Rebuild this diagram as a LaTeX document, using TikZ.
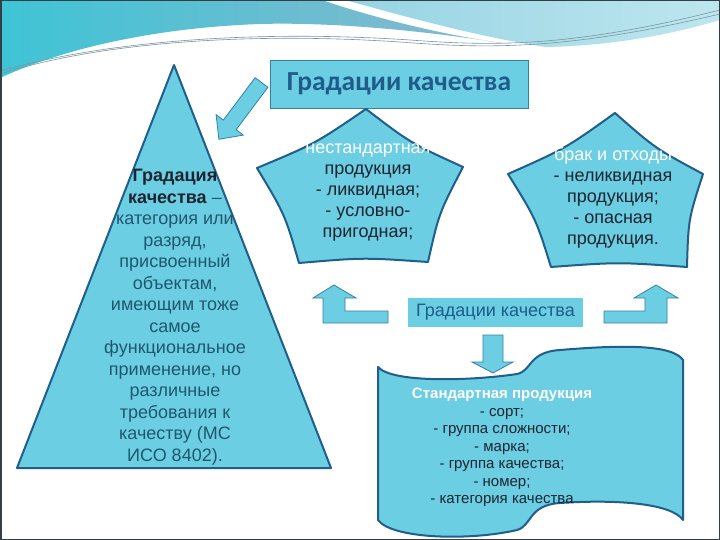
\documentclass[tikz,border=0pt]{standalone}
\usepackage{fontspec}
\setmainfont{Liberation Sans}
\newfontfamily\titlefont{Carlito}
\usetikzlibrary{calc}
\definecolor{fillc}{RGB}{108,206,226}
\definecolor{edgec}{RGB}{31,95,138}
\definecolor{arrowedge}{RGB}{50,130,165}
\definecolor{textdark}{RGB}{28,36,48}
\definecolor{tritext}{RGB}{31,88,110}
\definecolor{titlec}{RGB}{31,92,138}
\definecolor{bgblueA}{RGB}{62,196,214}
\definecolor{bgblueB}{RGB}{138,184,204}
\definecolor{bglightA}{RGB}{150,212,228}
\definecolor{bglightB}{RGB}{190,230,238}
\definecolor{framec}{RGB}{50,62,72}
\definecolor{linec}{RGB}{120,150,160}
\tikzset{
  shapeline/.style={draw=edgec, line width=2pt, fill=fillc, line join=round},
  blockarrow/.style={draw=arrowedge, line width=0.8pt, fill=fillc, line join=miter},
  bodytext/.style={align=center, font=\fontsize{18}{21}\selectfont, text=textdark, inner sep=0pt},
}
\begin{document}
\begin{tikzpicture}[x=1pt,y=-1pt]
\useasboundingbox (0,0) rectangle (720,540);
\fill[white] (0,0) rectangle (720,540);
% background decoration
\shade[left color=bgblueA, right color=bgblueB] (0,0) -- (322,0) .. controls (380,20) and (450,36) .. (508,44) .. controls (420,30) and (330,22) .. (260,24) .. controls (150,28) and (60,50) .. (0,78) -- cycle;
\shade[left color=bglightA, right color=bglightB] (345,0) -- (720,0) -- (720,20) .. controls (660,38) and (600,46) .. (545,47) .. controls (470,35) and (400,15) .. (345,0) -- cycle;
\draw[linec, line width=0.6pt] (0,74) .. controls (100,42) and (250,32) .. (400,42) .. controls (480,48) and (560,52) .. (720,14);
\draw[linec, line width=0.6pt] (0,71) .. controls (110,40) and (260,30) .. (410,40) .. controls (490,46) and (570,48) .. (720,10);
\draw[framec, line width=1.5pt] (0.75,0.75) rectangle (719.25,539.25);

% triangle
\coordinate (ta) at (174,65);
\coordinate (tb) at (17,468);
\coordinate (tc) at (331,468);
\draw[shapeline] (ta) -- (tc) -- (tb) -- cycle;
\node[align=center, font=\fontsize{18}{21.5}\selectfont, text=tritext, inner sep=0pt] (tritxt) at (175,317)
 {\textcolor{textdark}{\textbf{Градация}}\\ \textcolor{textdark}{\textbf{качества}} –\\ категория или\\ разряд,\\ присвоенный\\ объектам,\\ имеющим тоже\\ самое\\ функциональное\\ применение, но\\ различные\\ требования к\\ качеству (МС\\ ИСО 8402).};

% top title box
\node[draw=arrowedge, line width=0.8pt, fill=fillc, minimum width=258pt, minimum height=48pt, inner sep=0pt,
  font=\titlefont\bfseries\fontsize{27.5}{30}\selectfont, text=titlec] (title) at (399,84) {Градации качества};

% diagonal arrow
\draw[blockarrow] (255.1,77.7) -- (267.9,87.3) -- (236.1,129.7) -- (243.3,135.1) -- (218.9,139.3) -- (216.1,114.7) -- (223.3,120.1) -- cycle;

% left pentagon
\coordinate (pa) at (366,109);
\coordinate (pb) at (463,167);
\coordinate (pc) at (428,262);
\coordinate (pd) at (299,263);
\coordinate (pe) at (257,168);
\coordinate (pm) at (363,200);
\draw[shapeline] (pa) .. controls ($(pa)!.5!(pb)!.08!(pm)$) .. (pb)
  .. controls ($(pb)!.5!(pc)!.08!(pm)$) .. (pc)
  .. controls ($(pc)!.5!(pd)!.08!(pm)$) .. (pd)
  .. controls ($(pd)!.5!(pe)!.08!(pm)$) .. (pe)
  .. controls ($(pe)!.5!(pa)!.08!(pm)$) .. (pa) -- cycle;
\node[bodytext] (lefttxt) at (368,192.5) {\textcolor{white}{нестандартная}\\ продукция\\ - ликвидная;\\ - условно-\\ пригодная;};

% right pentagon
\coordinate (qa) at (615,113);
\coordinate (qb) at (703,174);
\coordinate (qc) at (687,267);
\coordinate (qd) at (551,267);
\coordinate (qe) at (508,174);
\coordinate (qm) at (612,205);
\draw[shapeline] (qa) .. controls ($(qa)!.5!(qb)!.08!(qm)$) .. (qb)
  .. controls ($(qb)!.5!(qc)!.08!(qm)$) .. (qc)
  .. controls ($(qc)!.5!(qd)!.08!(qm)$) .. (qd)
  .. controls ($(qd)!.5!(qe)!.08!(qm)$) .. (qe)
  .. controls ($(qe)!.5!(qa)!.08!(qm)$) .. (qa) -- cycle;
\node[bodytext] (righttxt) at (613,197.5) {\textcolor{white}{брак и отходы}\\ - неликвидная\\ продукция;\\ - опасная\\ продукция.};

% middle box
\node[fill=fillc, minimum width=175pt, minimum height=29pt, inner sep=0pt,
  font=\fontsize{18}{20}\selectfont, text=titlec] (mid) at (495.5,312.5) {Градации качества};

% bent arrows
\draw[blockarrow] (334,285) -- (356,298) -- (345,298) -- (345,311) -- (388,311) -- (388,323) -- (323,323) -- (323,298) -- (313,298) -- cycle;
\draw[blockarrow] (656,285) -- (678,298) -- (667,298) -- (667,323) -- (604,323) -- (604,311) -- (645,311) -- (645,298) -- (634,298) -- cycle;

% wave
\draw[shapeline] (378,367) .. controls (392,383) and (470,381) .. (517,374)
  .. controls (532,371) and (528,352) .. (560,350)
  .. controls (620,345) and (672,344) .. (683,360)
  -- (683,520)
  .. controls (672,504) and (620,499) .. (560,503)
  .. controls (528,505) and (532,526) .. (517,530)
  .. controls (470,541) and (392,539) .. (378,520) -- cycle;
\node[align=center, font=\fontsize{15}{17.5}\selectfont, text=textdark, inner sep=0pt] (wavetxt) at (502,447.5)
 {\textcolor{white}{\textbf{\fontsize{15}{17.5}\selectfont Стандартная продукция}}\\ - сорт;\\ - группа сложности;\\ - марка;\\ - группа качества;\\ - номер;\\ - категория качества};

% down arrow
\draw[blockarrow] (483,335) -- (503,335) -- (503,362) -- (513,362) -- (493,373) -- (472,362) -- (483,362) -- cycle;
\end{tikzpicture}
\end{document}
